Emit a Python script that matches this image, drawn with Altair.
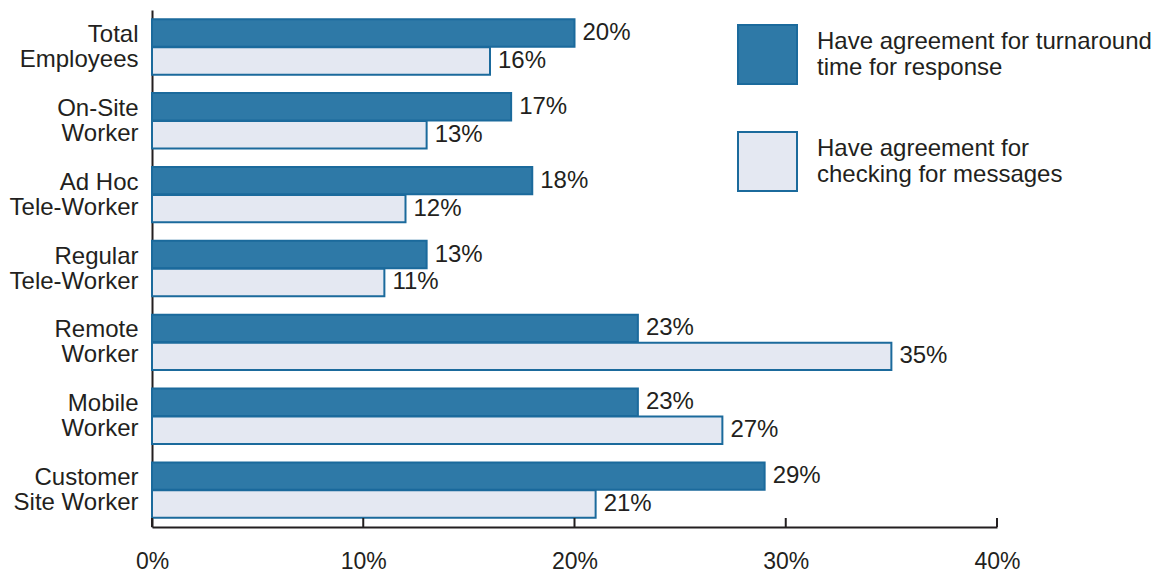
import altair as alt
import pandas as pd

categories = ["Total\nEmployees", "On-Site\nWorker", "Ad Hoc\nTele-Worker",
              "Regular\nTele-Worker", "Remote\nWorker", "Mobile\nWorker",
              "Customer\nSite Worker"]
series = ["Have agreement for turnaround\ntime for response",
          "Have agreement for\nchecking for messages"]
turnaround = [20, 17, 18, 13, 23, 23, 29]
checking = [16, 13, 12, 11, 35, 27, 21]
x_ticks = [0, 10, 20, 30, 40]

DARK = "#2E79A7"
LIGHT = "#E4E8F2"
STROKE = "#1B6A9C"
INK = "#231F20"
FS = 24

rows = []
for c, a, b in zip(categories, turnaround, checking):
    rows.append({"category": c, "series": series[0], "value": a, "label": f"{a}%"})
    rows.append({"category": c, "series": series[1], "value": b, "label": f"{b}%"})
df = pd.DataFrame(rows)

W, H = 845, 517

x_enc = alt.X("value:Q", scale=alt.Scale(domain=[0, 40], nice=False),
              axis=alt.Axis(values=x_ticks, labelExpr="datum.value + '%'",
                            grid=False, ticks=False, domainColor=INK, domainWidth=2,
                            labelFontSize=23, labelColor=INK, labelPadding=23,
                            labelFlush=False, title=None))
y_enc = alt.Y("category:N", sort=categories,
              scale=alt.Scale(paddingInner=0.25, paddingOuter=0.125),
              axis=alt.Axis(labelExpr="split(datum.label, '\\n')", ticks=False,
                            domainColor=INK, domainWidth=2, labelFontSize=FS,
                            labelColor=INK, labelPadding=14, labelLineHeight=25,
                            labelOffset=-12, labelLimit=300, title=None))
yoff = alt.YOffset("series:N", sort=series, scale=alt.Scale(paddingInner=0.02))

base = alt.Chart(df).encode(x=x_enc, y=y_enc, yOffset=yoff)

bars = base.mark_bar(stroke=STROKE, strokeWidth=2).encode(
    color=alt.Color("series:N", sort=series,
                    scale=alt.Scale(domain=series, range=[DARK, LIGHT]),
                    legend=alt.Legend(orient="none", legendX=585, legendY=14,
                                      title=None, symbolType="square",
                                      symbolSize=3481, symbolStrokeColor=STROKE,
                                      symbolStrokeWidth=2, labelFontSize=FS,
                                      labelColor=INK, labelOffset=19,
                                      labelBaseline="line-bottom",
                                      labelExpr="split(datum.label, '\\n')",
                                      rowPadding=40, labelLimit=500))
)

text = base.mark_text(align="left", baseline="middle", dx=8, fontSize=FS,
                      color=INK).encode(text="label:N")

ticks = alt.Chart(pd.DataFrame({"t": x_ticks})).mark_rule(
    color=INK, strokeWidth=2).encode(
    x=alt.X("t:Q"), y=alt.value(H - 9), y2=alt.value(H))

chart = alt.layer(bars, text, ticks).properties(
    width=W, height=H,
    autosize=alt.AutoSizeParams(type="none"),
    padding={"left": 144, "top": 2, "right": 155, "bottom": 46},
).configure(font="Liberation Sans").configure_view(strokeWidth=0, stroke="transparent")

chart.save("out.html", embed_options={"renderer": "svg", "actions": False})
